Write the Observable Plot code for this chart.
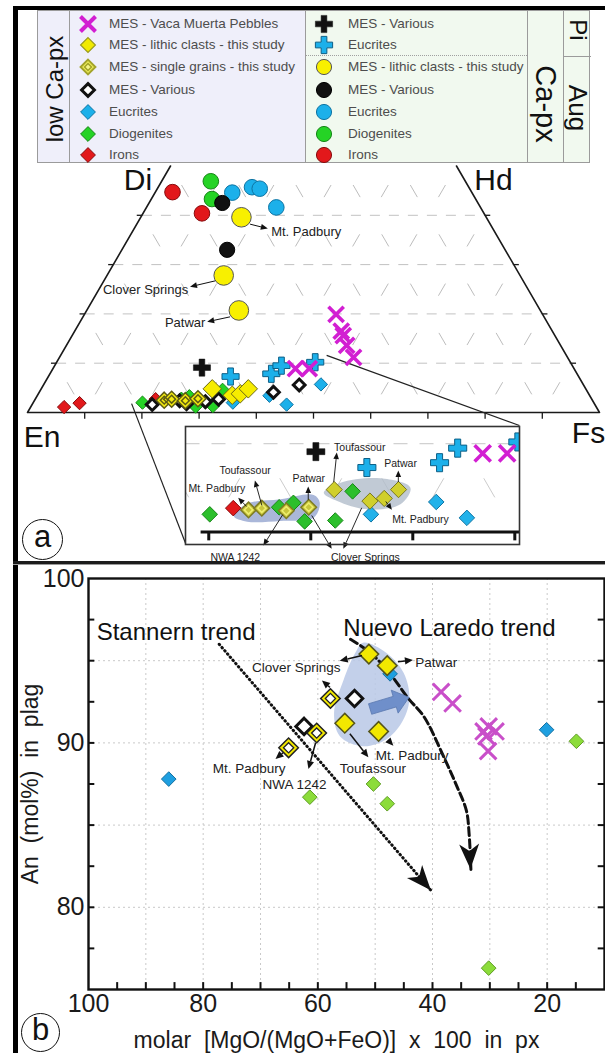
<!DOCTYPE html>
<html><head><meta charset="utf-8">
<script src="https://cdn.jsdelivr.net/npm/d3@7"></script>
<script src="https://cdn.jsdelivr.net/npm/@observablehq/plot@0.6"></script>
<style>
html,body{margin:0;padding:0;background:#fff;}
#root{position:relative;width:605px;height:1053px;overflow:hidden;background:#fff;font-family:"Liberation Sans",Arial,Helvetica,sans-serif;}
#root > *{position:absolute;}
.abs{position:absolute;}
.rot{position:absolute;white-space:nowrap;line-height:1;color:#111;}
.lt{position:absolute;white-space:nowrap;font-size:13.5px;color:#4d4d4d;transform:translateY(-50%);line-height:1;}
</style></head>
<body><div id="root"></div>
<script>
// ================= DATA =================
// Panel a – pyroxene quadrilateral. Compositions [Wo, Fs] in mol% (En = 100 - Wo - Fs)
const lowCaVacaMuerta   = [[19.9,44.0],[16.5,46.6],[15.6,47.4],[13.6,49.0],[11.2,51.4],[8.9,42.4],[8.9,44.8]];
const lowCaLithic       = [[4.8,29.9],[3.5,34.05],[3.8,35.3],[4.8,36.2]];
const lowCaSingleGrains = [[2.5,22.65],[2.7,23.85],[2.4,26.4],[2.8,28.4]];
const lowCaMesVarious   = [[1.6,21.0],[2.4,25.4],[1.8,26.9],[2.2,30.0],[2.7,32.05],[4.1,40.95],[5.6,44.7]];
const lowCaEucrites     = [[2.0,34.9],[3.4,40.6],[1.6,44.5],[5.7,48.45]];
const lowCaDiogenites   = [[2.0,19.1],[2.8,25.5],[3.3,26.65],[1.2,28.8],[1.3,31.75],[4.6,31.8]];
const lowCaIrons        = [[1.1,5.85],[1.9,8.15],[2.7,21.05]];
const piMesVarious      = [[9.1,25.95]];
const piEucrites        = [[7.3,31.85],[7.85,38.7],[9.5,39.65],[10.2,45.2]];
const augLithic         = [[39.6,17.6],[27.8,20.4],[20.7,26.6]];
const augMesVarious     = [[42.5,12.8],[33.0,18.4]];
const augEucrites       = [[44.6,13.5],[45.7,16.4],[45.4,17.9],[41.6,22.7]];
const augDiogenites     = [[46.9,8.6],[43.3,10.6]];
const augIrons          = [[44.7,3.0],[40.4,10.3]];

// quadrilateral corners [Wo, Fs] and vertex names
const triFrame = [[50,0],[0,0],[0,100],[50,50]];
const triVertices = [{name:"Di",wo:50,fs:0},{name:"Hd",wo:50,fs:50},{name:"En",wo:0,fs:0},{name:"Fs",wo:0,fs:100}];
const triBaseTicks = [10,20,30,40,50,60,70,80,90];
const triWoLevels = [10,20,30,40];
const triGridSteps = [10,20,30,40,50,60,70,80,90];
const insetTicks = [20,30,40,50];

// annotations in projected coordinates [u = Fs + Wo/2, Wo]
const triArrowsMain = [[39.0,38.1,42.1,37.2],[32.9,26.6,28.5,25.4],[35.5,19.3,31.5,18.3]];
const triLabelsStart = [{x:42.6,y:36.6,text:"Mt. Padbury"}];
const triLabelsEnd = [{x:28.1,y:24.8,text:"Clover Springs"},{x:31.1,y:18.1,text:"Patwar"}];
const insetConnectors = [[18.2,1.8,27.66,-26.63],[52.3,11.6,86.0,-2.64]];
const insetArrows = [[23.76,2.83,22.94,3.82],[25.26,2.94,24.57,5.78],[29.8,3.6,29.8,5.1],[32.3,5.6,32.6,8.95],
  [38.63,5.6,38.63,6.9],[37.4,3.4,38.0,2.45],[27.3,1.9,25.4,-1.59],[30.14,1.81,32.1,-1.96],[35.04,2.68,33.24,-1.96]];
const insetLabels = [{x:20.8,y:4.87,text:"Mt. Padbury"},{x:23.56,y:6.9,text:"Toufassour"},{x:29.8,y:6.0,text:"Patwar"},
  {x:34.8,y:9.5,text:"Toufassour"},{x:38.8,y:7.7,text:"Patwar"},{x:40.75,y:1.36,text:"Mt. Padbury"},
  {x:22.6,y:-2.94,text:"NWA 1242"},{x:35.35,y:-2.94,text:"Clover Springs"}];
const insetBlobWest = [[22.45,1.81],[23.76,3.2],[27.03,3.7],[30.29,4.19],[30.88,3.32],[30.29,1.62],[27.03,1.25],[23.76,1.17]];
const insetBlobEast = [[31.27,4.45],[32.91,5.58],[36.83,6.08],[39.77,5.02],[38.79,3.14],[35.53,2.57],[32.59,3.51]];

// Panel b – [molar Mg# of px, An mol% in plag]
const bLithic     = [[51.1,95.4],[47.9,94.7],[55.3,91.2],[49.4,90.7]];
const bSingle     = [[57.8,92.7],[60.2,90.6],[65.1,89.7]];
const bMesVarious = [[53.6,92.7],[62.4,91.0]];
const bEucrites   = [[86.0,87.8],[47.4,94.2],[20.1,90.8]];
const bDiogenites = [[61.4,86.7],[50.3,87.5],[47.9,86.3],[14.9,90.1],[30.2,76.3]];
const bVacaMuerta = [[38.5,93.1],[36.5,92.4],[31.1,90.7],[30.2,91.0],[29.0,90.7],[30.6,90.4],[30.3,89.5]];
const bStannern   = [[77.2,96.0],[40.2,81.0]];
const bNuevoLaredo = [[54.3,96.3],[50.9,95.5],[47.6,94.3],[44.2,92.7],[41.5,91.6],[38.1,89.2],[35.8,87.4],[34.1,85.9],[33.6,84.4],[33.3,82.3]];
const bShade = [[52.1,96.09],[48.08,95.48],[45.04,94.26],[44.03,92.64],[45.39,91.22],[48.08,90.21],[52.11,89.8],[56.16,90.41],[57.17,91.83],[55.48,93.86],[53.46,95.48]];
const bShift = [[50.8,92.03,44.0,92.74]];
const bTrendHeads = [[77.2,96.0,40.2,81.0],[33.6,84.4,33.3,82.3]];
const bArrows = [[52.2,95.28,56.1,94.97],[45.95,94.91,43.33,95.01],[57.8,93.35,59.2,93.76],[66.0,89.37,67.3,88.99],
  [60.3,89.98,61.55,88.38],[54.33,90.53,51.1,89.09],[47.7,90.16,46.74,89.8]];
const bLabelsMid = [{x:63.75,y:94.56,text:"Clover Springs"},{x:72.0,y:88.44,text:"Mt. Padbury"},{x:64.05,y:87.47,text:"NWA 1242"},
  {x:50.4,y:88.44,text:"Toufassour"},{x:43.54,y:89.23,text:"Mt. Padbury"}];
const bLabelsStart = [{x:43.0,y:94.9,text:"Patwar"}];
const bTrendLabels = [{x:98.57,y:96.7,text:"Stannern trend"},{x:55.55,y:97.0,text:"Nuevo Laredo trend"}];
const bXTickLabels = [100,80,60,40,20];
const bYTickLabels = [80,90,100];
const bXMinorTicks = [95,90,85,80,75,70,65,60,55,50,45,40,35,30,25,20,15];
const bYMinorTicks = [77.5,80,82.5,85,87.5,90,92.5,95,97.5];
const bXGrid = [90,80,70,60,50,40,30,20];
const bYGrid = [95,90,85,80];

const lowCaLegend = ["MES - Vaca Muerta Pebbles","MES - lithic clasts - this study","MES - single grains - this study","MES - Various","Eucrites","Diogenites","Irons"];
const caLegend = ["MES - Various","Eucrites","MES - lithic clasts - this study","MES - Various","Eucrites","Diogenites","Irons"];

// ================= HELPERS =================
const C = {magenta:"#d21fd2", blue:"#1cb0ea", blueS:"#0e74a3", green:"#25d325", greenS:"#168516",
  red:"#e2181b", redS:"#870c0e", yellow:"#f6ec00", yellowS:"#6b6814", black:"#111"};
const tx = d => d[1] + d[0] / 2;
const ty = d => d[0];

const gridH = triWoLevels.map(w => ({x1: w/2, y1: w, x2: 100 - w/2, y2: w}));
const gridD = [
  ...triGridSteps.map(f => { const wm = Math.min(50, 100 - f); return {x1: f, y1: 0, x2: f + wm/2, y2: wm}; }),
  ...triGridSteps.map(e => { const wm = Math.min(50, 100 - e); return {x1: 100 - e, y1: 0, x2: 100 - e - wm/2, y2: wm}; })
];
function clipSeg(s, x0, x1, y0, y1) {
  let t0 = 0, t1 = 1; const dx = s.x2 - s.x1, dy = s.y2 - s.y1;
  const p = [-dx, dx, -dy, dy], q = [s.x1 - x0, x1 - s.x1, s.y1 - y0, y1 - s.y1];
  for (let i = 0; i < 4; i++) {
    if (p[i] === 0) { if (q[i] < 0) return null; }
    else { const r = q[i] / p[i]; if (p[i] < 0) { if (r > t1) return null; if (r > t0) t0 = r; } else { if (r < t0) return null; if (r < t1) t1 = r; } }
  }
  return {x1: s.x1 + t0*dx, y1: s.y1 + t0*dy, x2: s.x1 + t1*dx, y2: s.y1 + t1*dy};
}

function arrowMark(items, {stroke = "#111", width = 1, headLen = 7, headHalf = 3} = {}) {
  return (index, scales) => {
    const g = d3.create("svg:g");
    for (const a of items) {
      const x1 = scales.x(a[0]), y1 = scales.y(a[1]), x2 = scales.x(a[2]), y2 = scales.y(a[3]);
      const L = Math.hypot(x2 - x1, y2 - y1) || 1, c = (x2 - x1) / L, s = (y2 - y1) / L;
      const bx = x2 - headLen * c, by = y2 - headLen * s;
      g.append("line").attr("x1", x1).attr("y1", y1).attr("x2", bx).attr("y2", by).attr("stroke", stroke).attr("stroke-width", width);
      g.append("path").attr("d", `M${x2},${y2}L${bx - headHalf*s},${by + headHalf*c}L${bx + headHalf*s},${by - headHalf*c}Z`).attr("fill", stroke);
    }
    return g.node();
  };
}
function stealthHeads(items, {len = 24, half = 9.5, notch = 7, fill = "#111"} = {}) {
  return (index, scales) => {
    const g = d3.create("svg:g");
    for (const a of items) {
      const x1 = scales.x(a[0]), y1 = scales.y(a[1]), x2 = scales.x(a[2]), y2 = scales.y(a[3]);
      const L = Math.hypot(x2 - x1, y2 - y1), c = (x2 - x1) / L, s = (y2 - y1) / L;
      const bx = x2 - len * c, by = y2 - len * s, nx = x2 - (len - notch) * c, ny = y2 - (len - notch) * s;
      g.append("path").attr("d", `M${x2},${y2}L${bx - half*s},${by + half*c}L${nx},${ny}L${bx + half*s},${by - half*c}Z`).attr("fill", fill);
    }
    return g.node();
  };
}
function fatArrow(items, {fill = "#6f8fca", body = 5.5, head = 12, headLen = 15} = {}) {
  return (index, scales) => {
    const g = d3.create("svg:g");
    for (const a of items) {
      const x1 = scales.x(a[0]), y1 = scales.y(a[1]), x2 = scales.x(a[2]), y2 = scales.y(a[3]);
      const L = Math.hypot(x2 - x1, y2 - y1), c = (x2 - x1) / L, s = (y2 - y1) / L;
      const bx = x2 - headLen * c, by = y2 - headLen * s, px = -s, py = c;
      const pts = [[x1+px*body,y1+py*body],[bx+px*body,by+py*body],[bx+px*head,by+py*head],[x2,y2],
                   [bx-px*head,by-py*head],[bx-px*body,by-py*body],[x1-px*body,y1-py*body]];
      g.append("path").attr("d", "M" + pts.map(p => p.join(",")).join("L") + "Z").attr("fill", fill).attr("stroke", "#5a78b0").attr("stroke-width", 0.8);
    }
    return g.node();
  };
}

function triPoints(s, filt) {
  const f = filt || (() => true);
  const dot = (data, o) => Plot.dot(data.filter(f), {x: tx, y: ty, clip: s.clip, ...o});
  const marks = [
    dot(lowCaEucrites, {symbol: "diamond2", r: s.d, fill: s.blue, stroke: C.blueS, strokeWidth: 1}),
    dot(lowCaDiogenites, {symbol: "diamond2", r: s.d, fill: s.green, stroke: C.greenS, strokeWidth: 1}),
    dot(lowCaIrons, {symbol: "diamond2", r: s.d, fill: C.red, stroke: C.redS, strokeWidth: 1})
  ];
  if (s.various) marks.push(dot(lowCaMesVarious, {symbol: "diamond2", r: 5.3, fill: "white", stroke: C.black, strokeWidth: 3}));
  marks.push(
    dot(lowCaSingleGrains, {symbol: "diamond2", r: s.sg, fill: s.sgFill, stroke: s.sgStroke, strokeWidth: 1.5}),
    dot(lowCaSingleGrains, {symbol: "diamond2", r: s.sgi, fill: "none", stroke: s.sgInner, strokeWidth: 1.5}),
    dot(lowCaLithic, {symbol: "diamond2", r: s.l, fill: s.lFill, stroke: s.lStroke, strokeWidth: 1}),
    dot(piMesVarious, {symbol: "cross", r: s.c, fill: C.black, stroke: C.black, strokeWidth: 0.5}),
    dot(piEucrites, {symbol: "cross", r: s.c, fill: C.blue, stroke: "#0d5f86", strokeWidth: 1}),
    dot(lowCaVacaMuerta, {symbol: "times", r: s.t, fill: "none", stroke: C.magenta, strokeWidth: 3.6})
  );
  return marks;
}

const root = d3.select("#root");

// ================= PANEL A =================
const plotA = Plot.plot({
  width: 605, height: 561, margin: 0,
  x: {domain: [0, 100], range: [27, 599], axis: null},
  y: {domain: [0, 50], range: [412, 165.5], axis: null},
  style: {background: "white", overflow: "visible", fontFamily: "Liberation Sans, Arial, sans-serif"},
  marks: [
    Plot.link(gridH, {x1: "x1", y1: "y1", x2: "x2", y2: "y2", stroke: "#c2c2c2", strokeWidth: 1, strokeDasharray: "10,9"}),
    Plot.link(gridD, {x1: "x1", y1: "y1", x2: "x2", y2: "y2", stroke: "#bdbdbd", strokeWidth: 1, strokeDasharray: "14,43", strokeDashoffset: -21}),
    Plot.line(triFrame, {x: tx, y: ty, stroke: "#1a1a1a", strokeWidth: 1.6}),
    Plot.link(triBaseTicks, {x1: d => d, x2: d => d, y1: 0, y2: -1.25, stroke: "#1a1a1a", strokeWidth: 1.3}),
    Plot.link(triWoLevels, {x1: d => d/2, x2: d => d/2 - 0.9, y1: d => d, y2: d => d, stroke: "#1a1a1a", strokeWidth: 1.3}),
    Plot.link(triWoLevels, {x1: d => 100 - d/2, x2: d => 100 - d/2 + 0.9, y1: d => d, y2: d => d, stroke: "#1a1a1a", strokeWidth: 1.3}),
    Plot.link(insetConnectors, {x1: d => d[0], y1: d => d[1], x2: d => d[2], y2: d => d[3], stroke: "#222", strokeWidth: 1.2}),
    ...triPoints({d: 6.0, sg: 7.2, sgi: 3.5, l: 8.3, c: 7.2, t: 7.0, blue: C.blue, green: C.green,
      sgFill: "#f3ea10", sgStroke: "#5e5c14", sgInner: "#5e5c14", lFill: C.yellow, lStroke: C.yellowS, various: true}),
    Plot.dot(augEucrites, {x: tx, y: ty, r: 7.8, fill: C.blue, stroke: C.blueS, strokeWidth: 1}),
    Plot.dot(augDiogenites, {x: tx, y: ty, r: 7.8, fill: C.green, stroke: C.greenS, strokeWidth: 1}),
    Plot.dot(augIrons, {x: tx, y: ty, r: 7.8, fill: C.red, stroke: C.redS, strokeWidth: 1}),
    Plot.dot(augMesVarious, {x: tx, y: ty, r: 7.6, fill: "#111", stroke: "#000", strokeWidth: 1}),
    Plot.dot(augLithic, {x: tx, y: ty, r: 9.8, fill: "#f8f000", stroke: "#555", strokeWidth: 1}),
    arrowMark(triArrowsMain, {width: 1, headLen: 7, headHalf: 3}),
    Plot.text(triLabelsStart, {x: "x", y: "y", text: "text", textAnchor: "start", fontSize: 13, fill: "#222"}),
    Plot.text(triLabelsEnd, {x: "x", y: "y", text: "text", textAnchor: "end", fontSize: 13, fill: "#222"}),
    Plot.text([triVertices[0]], {x: d => d.fs + d.wo/2, y: "wo", text: "name", dx: -32.5, dy: 14.5, fontSize: 30, fill: "#111"}),
    Plot.text([triVertices[1]], {x: d => d.fs + d.wo/2, y: "wo", text: "name", dx: 37, dy: 14.5, fontSize: 30, fill: "#111"}),
    Plot.text([triVertices[2]], {x: d => d.fs + d.wo/2, y: "wo", text: "name", dx: 14.5, dy: 25, fontSize: 30, fill: "#111"}),
    Plot.text([triVertices[3]], {x: d => d.fs + d.wo/2, y: "wo", text: "name", dx: -11, dy: 20.5, fontSize: 30, fill: "#111"})
  ]
});
d3.select(plotA).style("left", "0px").style("top", "0px");
root.node().appendChild(plotA);

// ---- inset ----
const IX = [17.72, 50.46], IY = [-1.42, 11.95];
const inInset = d => tx(d) >= IX[0] - 0.5 && tx(d) <= IX[1] + 0.5 && ty(d) >= IY[0] && ty(d) <= IY[1];
const insetGrid = [...gridH, ...gridD].map(s => clipSeg(s, IX[0], IX[1], 0, IY[1])).filter(Boolean);
const plotInset = Plot.plot({
  width: 334, height: 140, marginLeft: 0, marginRight: 0, marginTop: 0, marginBottom: 22,
  x: {domain: IX, axis: null},
  y: {domain: IY, axis: null},
  style: {background: "transparent", overflow: "visible", fontFamily: "Liberation Sans, Arial, sans-serif"},
  marks: [
    Plot.frame({fill: "white", stroke: "none"}),
    Plot.link(insetGrid.filter(s => s.y1 === s.y2), {x1: "x1", y1: "y1", x2: "x2", y2: "y2", stroke: "#c6c6c6", strokeDasharray: "14,12"}),
    Plot.link(insetGrid.filter(s => s.y1 !== s.y2), {x1: "x1", y1: "y1", x2: "x2", y2: "y2", stroke: "#cccccc", strokeDasharray: "22,80", strokeDashoffset: -40}),
    Plot.line(insetBlobWest, {x: d => d[0], y: d => d[1], curve: "catmull-rom-closed", fill: "#8d9fcc", fillOpacity: 0.75, stroke: "none"}),
    Plot.line(insetBlobEast, {x: d => d[0], y: d => d[1], curve: "catmull-rom-closed", fill: "#b2bdcb", fillOpacity: 0.8, stroke: "none"}),
    Plot.ruleY([0], {x1: 19.25, x2: IX[1], stroke: "#111", strokeWidth: 3}),
    Plot.link(insetTicks, {x1: d => d, x2: d => d, y1: 0, y2: -0.95, stroke: "#111", strokeWidth: 3}),
    ...triPoints({d: 7.0, sg: 7.0, sgi: 3.8, l: 7.3, c: 7.6, t: 7.4, blue: "#22b2ea", green: "#2cbf2c", clip: true,
      sgFill: "#c8c63c", sgStroke: "#7d7b22", sgInner: "#eeee70", lFill: "#d0cf2c", lStroke: "#7a781e", various: false}, inInset),
    arrowMark(insetArrows, {width: 0.9, headLen: 6.5, headHalf: 2.8}),
    Plot.text(insetLabels, {x: "x", y: "y", text: "text", fontSize: 10.5, fill: "#222"}),
    Plot.frame({stroke: "#333", strokeWidth: 1.6})
  ]
});
d3.select(plotInset).style("left", "185px").style("top", "425.5px");
root.node().appendChild(plotInset);

// ---- legend ----
function legendSymbol(kind) {
  const svg = d3.create("svg").attr("width", 22).attr("height", 22).attr("viewBox", "-11 -11 22 22").style("position", "absolute");
  const p = (type, size) => d3.symbol(type, size)();
  const add = (type, size, fill, stroke, sw) => svg.append("path").attr("d", p(type, size)).attr("fill", fill).attr("stroke", stroke).attr("stroke-width", sw);
  switch (kind) {
    case "x": add(d3.symbolTimes, 150, "none", C.magenta, 4); break;
    case "lithic": add(d3.symbolDiamond2, 140, "#f1ea00", "#9a9a1e", 1.2); break;
    case "single": add(d3.symbolDiamond2, 140, "#eeee5a", "#a3a32a", 2); add(d3.symbolDiamond2, 30, "#f6f68a", "#a3a32a", 1.5); break;
    case "various": add(d3.symbolDiamond2, 105, "white", "#111", 3); break;
    case "eucD": add(d3.symbolDiamond2, 140, C.blue, C.blueS, 1); break;
    case "dioD": add(d3.symbolDiamond2, 140, C.green, C.greenS, 1); break;
    case "ironD": add(d3.symbolDiamond2, 140, C.red, C.redS, 1); break;
    case "crossK": add(d3.symbolCross, 165, "#111", "#111", 0.5); break;
    case "crossB": add(d3.symbolCross, 165, C.blue, "#0d5f86", 1); break;
    case "circY": add(d3.symbolCircle, 180, "#f8f000", "#555", 1); break;
    case "circK": add(d3.symbolCircle, 180, "#111", "#000", 1); break;
    case "circB": add(d3.symbolCircle, 180, C.blue, C.blueS, 1); break;
    case "circG": add(d3.symbolCircle, 180, C.green, C.greenS, 1); break;
    case "circR": add(d3.symbolCircle, 180, C.red, C.redS, 1); break;
  }
  return svg.node();
}
const lowCaSyms = ["x","lithic","single","various","eucD","dioD","ironD"];
const caSyms = ["crossK","crossB","circY","circK","circB","circG","circR"];
const rowY = [13, 33.8, 56.2, 78.5, 100.5, 122.8, 143.8];

const legend = root.append("div").style("left", "37px").style("top", "10px").style("width", "553px").style("height", "153px")
  .style("box-sizing", "border-box").style("border", "1px solid #9b9b9b").style("background", "#f1f9ef");
legend.append("div").attr("class", "abs").style("left", "0px").style("top", "0px").style("width", "267px").style("height", "151px").style("background", "#efeffa");
for (const x of [31, 267, 489, 525]) legend.append("div").attr("class", "abs").style("left", x + "px").style("top", "0px").style("width", "1px").style("height", "151px").style("background", "#9b9b9b");
legend.append("div").attr("class", "abs").style("left", "268px").style("top", "43.5px").style("width", "221px").style("height", "0px").style("border-top", "1px dotted #a0a0a0");
legend.append("div").attr("class", "abs").style("left", "526px").style("top", "44.5px").style("width", "27px").style("height", "1px").style("background", "#9b9b9b");
lowCaLegend.forEach((t, i) => {
  const s = legendSymbol(lowCaSyms[i]); d3.select(s).style("left", "38.8px").style("top", (rowY[i] - 11) + "px"); legend.node().appendChild(s);
  legend.append("div").attr("class", "lt").style("left", "71px").style("top", rowY[i] + "px").text(t);
});
caLegend.forEach((t, i) => {
  const s = legendSymbol(caSyms[i]); d3.select(s).style("left", "275px").style("top", (rowY[i] - 11) + "px"); legend.node().appendChild(s);
  legend.append("div").attr("class", "lt").style("left", "310px").style("top", rowY[i] + "px").text(t);
});
const rotLabel = (txt, cx, cy, size, ang) => legend.append("div").attr("class", "rot").style("left", cx + "px").style("top", cy + "px")
  .style("font-size", size + "px").style("transform", `translate(-50%,-50%) rotate(${ang}deg)`).text(txt);
rotLabel("low Ca-px", 17, 78, 24, -90);
rotLabel("Ca-px", 507, 93, 29, 90);
rotLabel("Pi", 540, 19, 24, 90);
rotLabel("Aug", 540, 97, 26, 90);

// ================= PANEL B =================
const plotB = Plot.plot({
  width: 605, height: 488,
  marginLeft: 88, marginRight: 1, marginTop: 13, marginBottom: 64,
  x: {domain: [100, 10], ticks: bXTickLabels, tickSize: 0, tickPadding: 5, label: null},
  y: {domain: [75, 100], ticks: bYTickLabels, tickSize: 0, tickPadding: 4, label: null},
  style: {fontSize: "25px", fontFamily: "Liberation Sans, Arial, sans-serif", color: "#1a1a1a", background: "transparent", overflow: "visible"},
  marks: [
    Plot.ruleX(bXGrid, {stroke: "#c9c9c9", strokeDasharray: "2,3"}),
    Plot.ruleY(bYGrid, {stroke: "#c9c9c9", strokeDasharray: "2,3"}),
    Plot.line(bShade, {x: d => d[0], y: d => d[1], curve: "catmull-rom-closed", fill: "#b9c8e6", fillOpacity: 0.85, stroke: "none"}),
    Plot.line(bStannern, {x: d => d[0], y: d => d[1], stroke: "#111", strokeWidth: 3, strokeDasharray: "0.6,3.6", strokeLinecap: "round"}),
    Plot.line(bNuevoLaredo, {x: d => d[0], y: d => d[1], curve: "catmull-rom", stroke: "#111", strokeWidth: 3, strokeDasharray: "8,4"}),
    stealthHeads(bTrendHeads, {len: 25, half: 10, notch: 7}),
    fatArrow(bShift),
    Plot.dot(bEucrites, {x: d => d[0], y: d => d[1], symbol: "diamond2", r: 6.6, fill: "#1e9fe0", stroke: "#1570a0", strokeWidth: 1}),
    Plot.dot(bDiogenites, {x: d => d[0], y: d => d[1], symbol: "diamond2", r: 6.6, fill: "#8cdc3a", stroke: "#5f9d24", strokeWidth: 1}),
    Plot.dot(bVacaMuerta, {x: d => d[0], y: d => d[1], symbol: "times", r: 7.6, fill: "none", stroke: "#c94fc9", strokeWidth: 3}),
    Plot.dot(bMesVarious, {x: d => d[0], y: d => d[1], symbol: "diamond2", r: 7.4, fill: "white", stroke: "#111", strokeWidth: 3}),
    Plot.dot(bSingle, {x: d => d[0], y: d => d[1], symbol: "diamond2", r: 8.8, fill: "#f2e800", stroke: "#222", strokeWidth: 1.5}),
    Plot.dot(bSingle, {x: d => d[0], y: d => d[1], symbol: "diamond2", r: 4.6, fill: "white", stroke: "#222", strokeWidth: 1.3}),
    Plot.dot(bLithic, {x: d => d[0], y: d => d[1], symbol: "diamond2", r: 8.8, fill: "#f2e800", stroke: "#55551a", strokeWidth: 1.5}),
    arrowMark(bArrows, {width: 1.5, headLen: 8, headHalf: 3.6}),
    Plot.text(bLabelsMid, {x: "x", y: "y", text: "text", fontSize: 13.5, fill: "#222"}),
    Plot.text(bLabelsStart, {x: "x", y: "y", text: "text", textAnchor: "start", fontSize: 13.5, fill: "#222"}),
    Plot.text(bTrendLabels, {x: "x", y: "y", text: "text", textAnchor: "start", fontSize: 24, fill: "#111"}),
    Plot.ruleX(bXMinorTicks, {y1: 75, y2: 75.42, stroke: "#111", strokeWidth: 2}),
    Plot.ruleY(bYMinorTicks, {x1: 100, x2: 98.9, stroke: "#111", strokeWidth: 2}),
    Plot.ruleY(bYMinorTicks, {x1: 10, x2: 11.1, stroke: "#111", strokeWidth: 2}),
    Plot.frame({stroke: "#111", strokeWidth: 2.4}),
    Plot.text([0], {frameAnchor: "left", text: () => "An  (mol%)  in  plag", rotate: -90, dx: -58, textAnchor: "middle", lineAnchor: "middle", fontSize: 23, fill: "#1a1a1a"}),
    Plot.text([0], {frameAnchor: "bottom", text: () => "molar  [MgO/(MgO+FeO)]  x  100  in  px", dy: 51, dx: -10, textAnchor: "middle", lineAnchor: "middle", fontSize: 23, fill: "#1a1a1a"})
  ]
});
d3.select(plotB).style("left", "0px").style("top", "565px");
root.node().appendChild(plotB);

// ================= FIGURE FURNITURE =================
const bar = (l, t, w, h, bg) => root.append("div").style("left", l + "px").style("top", t + "px").style("width", w + "px").style("height", h + "px").style("background", bg);
bar(13, 6, 592, 4, "#000");
bar(13, 6, 4.5, 1047, "#000");
bar(13, 561, 592, 2.6, "#1c1c1c");
bar(13, 563.6, 592, 1, "#9a9a9a");
const circ = (txt, cx, cy, r) => root.append("div").style("left", (cx - r) + "px").style("top", (cy - r) + "px")
  .style("width", 2*r + "px").style("height", 2*r + "px").style("box-sizing", "border-box").style("border", "1.6px solid #111")
  .style("border-radius", "50%").style("display", "flex").style("align-items", "center").style("justify-content", "center")
  .style("font-size", "31px").style("line-height", "1").style("color", "#111").style("background", "white")
  .append("span").style("margin-top", "-5px").text(txt);
circ("a", 42.7, 539.3, 20.5);
circ("b", 40.5, 1032, 19.5);
</script></body></html>
